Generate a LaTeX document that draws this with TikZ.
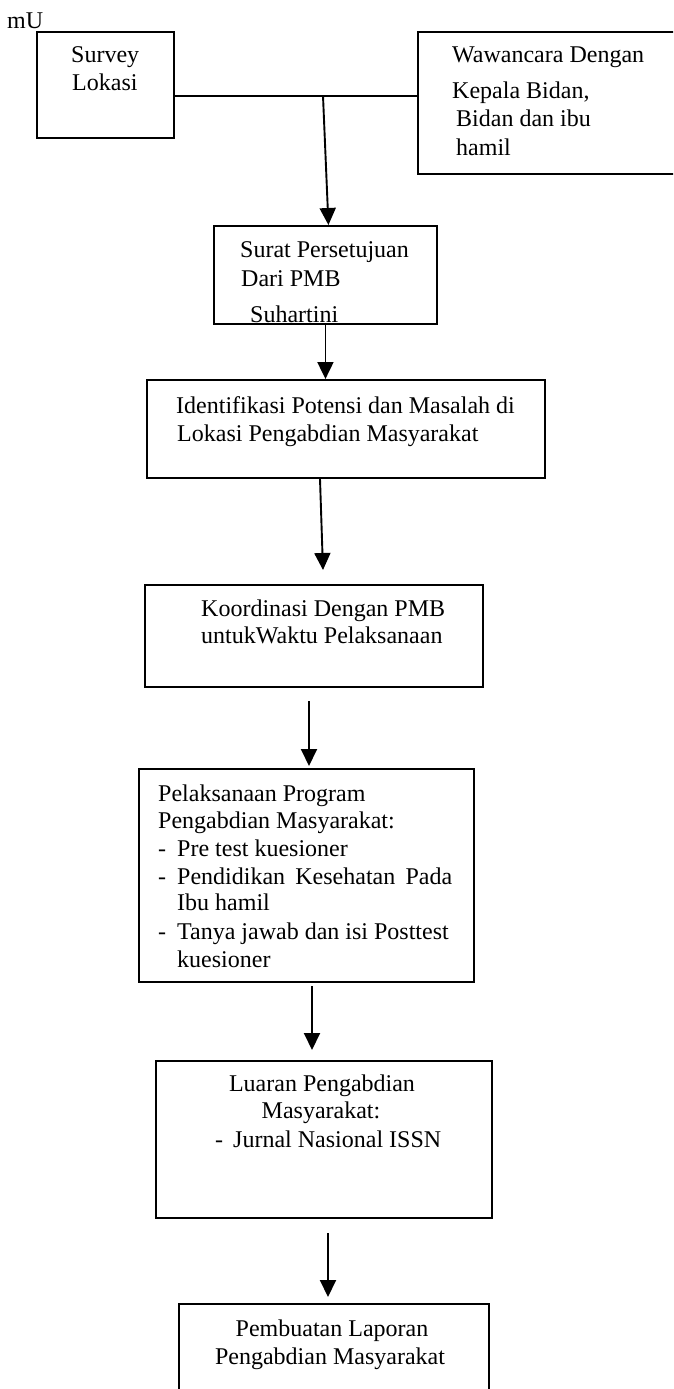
\documentclass[tikz,border=0pt]{standalone}
\usepackage{fontspec}
\setmainfont{Liberation Serif}
\usetikzlibrary{arrows.meta}
\begin{document}
\begin{tikzpicture}[x=1pt,y=-1pt,
  box/.style={draw,line width=1.9pt,inner sep=0pt,anchor=north west},
  txt/.style={inner sep=0pt,anchor=base west,font=\fontsize{24}{28}\selectfont},
  ctxt/.style={inner sep=0pt,anchor=base,font=\fontsize{24}{28}\selectfont},
  link/.style={line width=1.9pt},
  arr/.style={line width=1.9pt,-{Triangle[length=17pt,width=16pt]}}]
\clip (0,0) rectangle (673,1389);
\fill[white] (0,0) rectangle (673,1389);

% boxes
\node[box,minimum width=137pt,minimum height=106pt] (survey) at (36,31) {};
\node[box,minimum width=300pt,minimum height=142pt] (wawan) at (417,31) {};
\node[box,minimum width=223pt,minimum height=98pt] (surat) at (213,225) {};
\node[box,minimum width=398pt,minimum height=98pt] (ident) at (146,379) {};
\node[box,minimum width=338pt,minimum height=102pt] (koord) at (144,584) {};
\node[box,minimum width=335pt,minimum height=213pt] (pelak) at (138,768) {};
\node[box,minimum width=336pt,minimum height=157pt] (luaran) at (155,1060) {};
\node[box,minimum width=310pt,minimum height=150pt] (laporan) at (178,1303) {};

% texts
\node[txt] (mu) at (7,29) {mU};
\node[txt] (t1a) at (71,63) {Survey};
\node[txt] (t1b) at (72,90) {Lokasi};

\node[txt] (t2a) at (452,63) {Wawancara Dengan};
\node[txt] (t2b) at (452,99) {Kepala Bidan,};
\node[txt] (t2c) at (456,126) {Bidan dan ibu};
\node[txt] (t2d) at (456,155) {hamil};

\node[txt] (t3a) at (240,257) {Surat Persetujuan};
\node[txt] (t3b) at (241,286) {Dari PMB};
\node[txt] (t3c) at (250,322) {Suhartini};

\node[txt] (t4a) at (176,413) {Identifikasi Potensi dan Masalah di};
\node[txt] (t4b) at (177,441) {Lokasi Pengabdian Masyarakat};

\node[txt] (t5a) at (201,616) {Koordinasi Dengan PMB};
\node[txt] (t5b) at (201,643) {untukWaktu Pelaksanaan};

\node[txt] (t6a) at (158,801) {Pelaksanaan Program};
\node[txt] (t6b) at (158,828) {Pengabdian Masyarakat:};
\node[txt] (d6c) at (158,856) {-};
\node[txt] (t6c) at (177,856) {Pre test kuesioner};
\node[txt] (d6d) at (158,884) {-};
\node[txt] (t6d) at (177,884) {\makebox[275pt][s]{Pendidikan Kesehatan Pada}};
\node[txt] (t6e) at (177,910) {Ibu hamil};
\node[txt] (d6f) at (158,939) {-};
\node[txt] (t6f) at (177,939) {Tanya jawab dan isi Posttest};
\node[txt] (t6g) at (177,967) {kuesioner};

\node[ctxt] (t7a) at (322,1091) {Luaran Pengabdian};
\node[ctxt] (t7b) at (321,1118) {Masyarakat:};
\node[txt] (d7c) at (215,1147) {-};
\node[txt] (t7c) at (233,1147) {Jurnal Nasional ISSN};

\node[ctxt] (t8a) at (332,1336) {Pembuatan Laporan};
\node[ctxt] (t8b) at (330,1364) {Pengabdian Masyarakat};

% connectors
\coordinate (j) at (323,96);
\draw[link] (survey.east |- j) -- (wawan.west |- j);
\draw[arr] (j) -- ([xshift=3pt]surat.north);
\draw[arr] (surat.south) -- (surat.south |- ident.north);
\coordinate (a3s) at (320,479);
\coordinate (a3e) at (323,570);
\draw[arr] (a3s) -- (a3e);
\coordinate (a4s) at (309,701);
\coordinate (a4e) at (309,766);
\draw[arr] (a4s) -- (a4e);
\coordinate (a5s) at (312,986);
\coordinate (a5e) at (312,1050);
\draw[arr] (a5s) -- (a5e);
\coordinate (a6s) at (328,1233);
\coordinate (a6e) at (328,1297);
\draw[arr] (a6s) -- (a6e);
\end{tikzpicture}
\end{document}
